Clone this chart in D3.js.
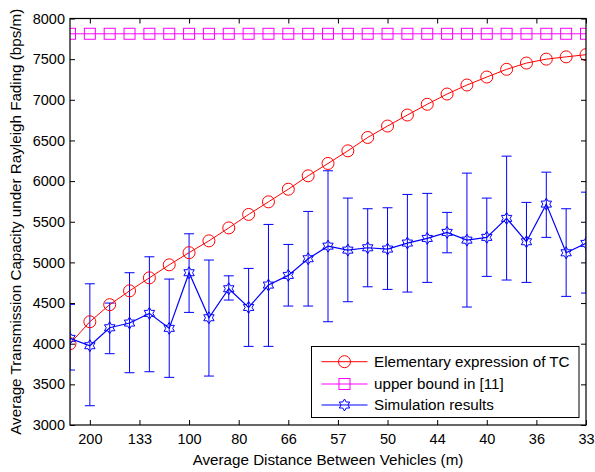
<!DOCTYPE html>
<html>
<head>
<meta charset="utf-8">
<script src="https://cdn.jsdelivr.net/npm/d3@7/dist/d3.min.js"></script>
<style>
  html, body { margin: 0; padding: 0; background: #fff; }
  svg { display: block; font-family: "Liberation Sans", Arial, sans-serif; }
</style>
</head>
<body>
<svg id="chart" width="595" height="472"></svg>
<script>
// Vehicle density (vehicles per km) along the x axis
const density = [4, 5, 6, 7, 8, 9, 10, 11, 12, 13, 14, 15, 16, 17, 18, 19, 20, 21, 22, 23, 24, 25, 26, 27, 28, 29, 30];

// Elementary expression of TC
const elementaryTC = [4000, 4270, 4480, 4650, 4810, 4970, 5120, 5265, 5424, 5590, 5745, 5900, 6065, 6217, 6372, 6537, 6677, 6813, 6945, 7071, 7182, 7280, 7375, 7452, 7500, 7528, 7555];

// Upper bound in [11]
const upperBound = [7812, 7812, 7812, 7812, 7812, 7812, 7812, 7812, 7812, 7812, 7812, 7812, 7812, 7812, 7812, 7812, 7812, 7812, 7812, 7812, 7812, 7812, 7812, 7812, 7812, 7812, 7812];

// Simulation results: mean, upper and lower ends of the error bars
const simMean = [4066, 3975, 4196, 4254, 4373, 4189, 4873, 4319, 4676, 4446, 4721, 4840, 5045, 5200, 5151, 5180, 5164, 5238, 5295, 5369, 5274, 5308, 5541, 5254, 5717, 5118, 5234];
const simHigh = [4484, 4737, 4500, 4873, 5069, 4795, 5352, 5029, 4835, 4926, 5467, 5221, 5627, 6127, 5791, 5660, 5672, 5836, 5849, 5615, 6098, 5791, 6307, 5738, 6110, 5660, 5864];
const simLow  = [3676, 3237, 3877, 3643, 3655, 3586, 4385, 3602, 4537, 3967, 3967, 4463, 4463, 4270, 4516, 4700, 4668, 4635, 4754, 5118, 4451, 4828, 4783, 4754, 5308, 4582, 4623];

// X tick positions (density) and the distance labels shown there
const xTickValues = [5, 7.5, 10, 12.5, 15, 17.5, 20, 22.5, 25, 27.5, 30];
const xTickLabels = ["200", "133", "100", "80", "66", "57", "50", "44", "40", "36", "33"];
const yTickValues = [3000, 3500, 4000, 4500, 5000, 5500, 6000, 6500, 7000, 7500, 8000];

const legendLabels = ["Elementary expression of TC", "upper bound in [11]", "Simulation results"];

const svg = d3.select("#chart");
const m = { left: 70, right: 586, top: 18.5, bottom: 425 };

const x = d3.scaleLinear().domain([4, 30]).range([m.left, m.right]);
const y = d3.scaleLinear().domain([3000, 8000]).range([m.bottom, m.top]);

const RED = "#ff0000", MAG = "#ff00ff", BLUE = "#0000ff";
const TICK_FS = 14.5, LABEL_FS = 15.2;

svg.append("defs").append("clipPath").attr("id", "plotClip")
  .append("rect")
  .attr("x", m.left).attr("y", m.top)
  .attr("width", m.right - m.left).attr("height", m.bottom - m.top);

// Hexagram outline (12 vertices) centred at the origin
function hexagram(r) {
  const pts = [];
  for (let i = 0; i < 12; i++) {
    const a = -Math.PI / 2 + i * Math.PI / 6;
    const rr = i % 2 === 0 ? r : r / Math.sqrt(3);
    pts.push([rr * Math.cos(a), rr * Math.sin(a)]);
  }
  return "M" + pts.map(p => p[0].toFixed(2) + "," + p[1].toFixed(2)).join("L") + "Z";
}

const plot = svg.append("g").attr("clip-path", "url(#plotClip)");

// Simulation results: error bars
const eb = plot.append("g").attr("stroke", BLUE).attr("stroke-width", 1).attr("fill", "none");
density.forEach((d, i) => {
  const cx = x(d);
  eb.append("line").attr("x1", cx).attr("x2", cx).attr("y1", y(simLow[i])).attr("y2", y(simHigh[i]));
  eb.append("line").attr("x1", cx - 5).attr("x2", cx + 5).attr("y1", y(simLow[i])).attr("y2", y(simLow[i]));
  eb.append("line").attr("x1", cx - 5).attr("x2", cx + 5).attr("y1", y(simHigh[i])).attr("y2", y(simHigh[i]));
});

const line = d3.line().x(d => x(d[0])).y(d => y(d[1]));

// Upper bound
plot.append("path")
  .attr("d", line(density.map((d, i) => [d, upperBound[i]])))
  .attr("fill", "none").attr("stroke", MAG).attr("stroke-width", 1);
plot.selectAll(".sq").data(density).enter().append("rect")
  .attr("x", (d) => x(d) - 5.5).attr("y", (d, i) => y(upperBound[i]) - 5.5)
  .attr("width", 11).attr("height", 11)
  .attr("fill", "none").attr("stroke", MAG).attr("stroke-width", 1);

// Elementary expression of TC
plot.append("path")
  .attr("d", line(density.map((d, i) => [d, elementaryTC[i]])))
  .attr("fill", "none").attr("stroke", RED).attr("stroke-width", 1);
plot.selectAll(".ci").data(density).enter().append("circle")
  .attr("cx", d => x(d)).attr("cy", (d, i) => y(elementaryTC[i])).attr("r", 6)
  .attr("fill", "none").attr("stroke", RED).attr("stroke-width", 1);

// Simulation mean
plot.append("path")
  .attr("d", line(density.map((d, i) => [d, simMean[i]])))
  .attr("fill", "none").attr("stroke", BLUE).attr("stroke-width", 1.2);
plot.selectAll(".hx").data(density).enter().append("path")
  .attr("d", hexagram(6))
  .attr("transform", (d, i) => `translate(${x(d)},${y(simMean[i])})`)
  .attr("fill", "none").attr("stroke", BLUE).attr("stroke-width", 1);

// Axes (ticks pointing inward, mirrored on top and right)
const tl = 5;
const axB = svg.append("g").attr("transform", `translate(0,${m.bottom})`)
  .call(d3.axisBottom(x).tickValues(xTickValues).tickSize(-tl).tickPadding(9)
    .tickFormat((d, i) => xTickLabels[i]));
const axT = svg.append("g").attr("transform", `translate(0,${m.top})`)
  .call(d3.axisTop(x).tickValues(xTickValues).tickSize(-tl).tickFormat(""));
const axL = svg.append("g").attr("transform", `translate(${m.left},0)`)
  .call(d3.axisLeft(y).tickValues(yTickValues).tickSize(-tl).tickPadding(5).tickFormat(d3.format("d")));
const axR = svg.append("g").attr("transform", `translate(${m.right},0)`)
  .call(d3.axisRight(y).tickValues(yTickValues).tickSize(-tl).tickFormat(""));

[axB, axT, axL, axR].forEach(g => {
  g.select(".domain").remove();
  g.selectAll(".tick line").attr("stroke", "#000").attr("stroke-width", 1);
  g.selectAll("text").attr("fill", "#000").attr("font-size", TICK_FS)
    .attr("font-family", "Liberation Sans, Arial, sans-serif");
});

// Frame
svg.append("rect")
  .attr("x", m.left).attr("y", m.top)
  .attr("width", m.right - m.left).attr("height", m.bottom - m.top)
  .attr("fill", "none").attr("stroke", "#000").attr("stroke-width", 1.2);

// Axis titles
svg.append("text")
  .attr("x", (m.left + m.right) / 2).attr("y", 465)
  .attr("text-anchor", "middle").attr("font-size", LABEL_FS).attr("fill", "#000")
  .text("Average Distance Between Vehicles (m)");
svg.append("text")
  .attr("transform", `translate(21,${(m.top + m.bottom) / 2}) rotate(-90)`)
  .attr("text-anchor", "middle").attr("font-size", LABEL_FS).attr("fill", "#000")
  .text("Average Transmission Capacity under Rayleigh Fading (bps/m)");

// Legend
const lg = svg.append("g");
lg.append("rect").attr("x", 311.5).attr("y", 346.5).attr("width", 267.5).attr("height", 71)
  .attr("fill", "#fff").attr("stroke", "#000").attr("stroke-width", 1);
const rows = [361.7, 384, 405];
const colors = [RED, MAG, BLUE];
legendLabels.forEach((lab, i) => {
  const ly = rows[i];
  lg.append("line").attr("x1", 321.5).attr("x2", 367.5).attr("y1", ly).attr("y2", ly)
    .attr("stroke", colors[i]).attr("stroke-width", 1);
  if (i === 0) {
    lg.append("circle").attr("cx", 344.5).attr("cy", ly).attr("r", 6)
      .attr("fill", "none").attr("stroke", RED);
  } else if (i === 1) {
    lg.append("rect").attr("x", 339).attr("y", ly - 5.5).attr("width", 11).attr("height", 11)
      .attr("fill", "none").attr("stroke", MAG);
  } else {
    lg.append("path").attr("d", hexagram(6)).attr("transform", `translate(344.5,${ly})`)
      .attr("fill", "none").attr("stroke", BLUE);
  }
  lg.append("text").attr("x", 374).attr("y", ly + 5.3).attr("font-size", LABEL_FS).attr("fill", "#000")
    .text(lab);
});
</script>
</body>
</html>
